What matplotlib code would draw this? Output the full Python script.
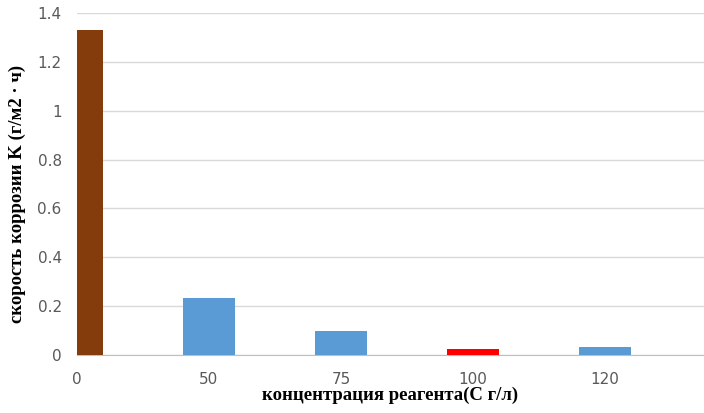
import numpy as np
import matplotlib.pyplot as plt

categories = ['0', '50', '75', '100', '120']
values = [1.33, 0.233, 0.098, 0.025, 0.034]
colors = ['#843C0C', '#5B9BD5', '#5B9BD5', '#FF0000', '#5B9BD5']

fig = plt.figure(figsize=(7.04, 4.13), dpi=100)
ax = fig.add_axes([77/704, 1-355/413, 627/704, 342/413])

x = np.arange(len(categories))
ax.bar(x, values, width=0.4, color=colors, zorder=3)

ax.set_xlim(0, 4.75)
ax.set_ylim(0, 1.4)
ax.set_yticks(np.arange(0, 1.41, 0.2))
ax.set_yticklabels(['0', '0.2', '0.4', '0.6', '0.8', '1', '1.2', '1.4'])
ax.set_xticks(x)
ax.set_xticklabels(categories)
ax.grid(axis='y', color='#D9D9D9', linewidth=1, zorder=0)

# remove borders and ticks
for s in ['top', 'right', 'left']:
    ax.spines[s].set_visible(False)
ax.spines['bottom'].set_color('#BFBFBF')
ax.tick_params(length=0, labelsize=11, labelcolor='#595959')
ax.tick_params(axis='x', pad=12)
ax.tick_params(axis='y', pad=11)

ax.set_xlabel('концентрация реагента(С г/л)', family='Liberation Serif',
              fontweight='bold', fontsize=13.5, labelpad=0)
ax.set_ylabel('скорость коррозии K (г/м2 · ч)', family='Liberation Serif',
              fontweight='bold', fontsize=13.5)
ax.yaxis.set_label_coords(-0.082, 0.47)

plt.savefig('out.png', dpi=100)
